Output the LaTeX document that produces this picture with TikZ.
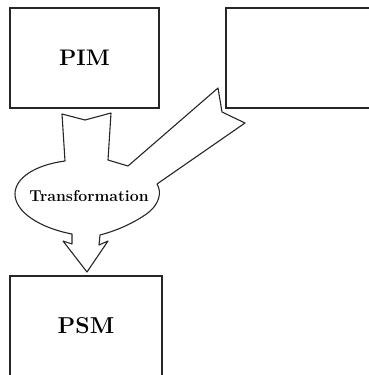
\documentclass[tikz,border=0pt]{standalone}
\usepackage{tikz}
\usetikzlibrary{positioning, calc}

\tikzset{
  modelbox/.style={draw=black!85, line width=1.4pt, fill=white,
    minimum width=149pt, minimum height=100pt, inner sep=0pt,
    font=\fontsize{22.5}{26}\selectfont\bfseries},
  bigarrow/.style={draw=black!85, line width=1.1pt, fill=white, line join=round}
}

\begin{document}
\begin{tikzpicture}[x=1pt, y=-1pt]
      \clip (0,0) rectangle (369,375);
      % Model boxes
      \node[modelbox] (pim) at (84.5,58) {PIM};
      \node[modelbox] (platform) at (300.5,58) {};
      \node[modelbox, minimum width=152pt, minimum height=104pt] (psm) at (86,328) {};
      \node at (86,326) {\fontsize{23}{26}\selectfont\bfseries PSM};

      % Transformation arrow
      \draw[bigarrow] (62,114) -- (85,120) -- (111,113) -- (108,160) -- (128,166)
        -- (218,88) -- (222,112) -- (245,123) -- (157,184)
        .. controls (162,192) and (160,205) .. (145,215)
        .. controls (130,225) and (115,231) .. (100,235)
        -- (99,245) -- (108,241) -- (87,272) -- (63,241) -- (72,244) -- (72,234)
        .. controls (40,228) and (15,212) .. (15,194)
        .. controls (15,178) and (35,165) .. (65,161) -- cycle;
      \node[font=\fontsize{15.8}{18}\selectfont\bfseries] (trans) at (89,196) {Transformation};
    \end{tikzpicture}
\end{document}
